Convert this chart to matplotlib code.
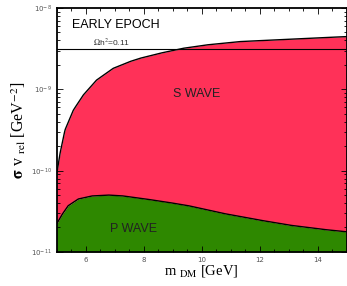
import numpy as np
import matplotlib
matplotlib.use("Agg")
import matplotlib.pyplot as plt
from matplotlib.ticker import MultipleLocator, LogLocator, NullFormatter

# --- data ------------------------------------------------------------------
m_s = [5.0, 5.03, 5.12, 5.29, 5.58, 5.92, 6.38, 6.95, 7.52, 7.86, 8.55, 9.35,
       10.15, 11.29, 12.44, 13.58, 15.0]
sv_s = [0.92e-10, 1.02e-10, 1.63e-10, 3.16e-10, 5.56e-10, 8.5e-10, 1.30e-9, 1.81e-9,
        2.19e-9, 2.40e-9, 2.77e-9, 3.19e-9, 3.51e-9, 3.86e-9, 4.04e-9, 4.23e-9, 4.45e-9]

m_p = [5.0, 5.18, 5.4, 5.75, 6.21, 6.78, 7.24, 7.92, 8.72, 9.52, 10.72, 11.87,
       13.01, 14.15, 15.0]
sv_p = [2.2e-11, 2.85e-11, 3.7e-11, 4.48e-11, 4.88e-11, 5.01e-11, 4.91e-11, 4.56e-11,
        4.14e-11, 3.72e-11, 2.99e-11, 2.51e-11, 2.14e-11, 1.9e-11, 1.77e-11]

relic_sv = 3.1e-9
x_ticks = [6, 8, 10, 12, 14]

RED = "#FF3158"
GREEN = "#2E8800"

plt.rcParams["mathtext.fontset"] = "stix"

fig = plt.figure(figsize=(3.47, 2.86), dpi=100)
ax = fig.add_axes([0.163, 0.119, 0.836, 0.853])

# put both curves on a common grid so the bands can be stacked
grid = np.linspace(5, 15, 400)
s_curve = 10 ** np.interp(grid, m_s, np.log10(sv_s))
p_curve = 10 ** np.interp(grid, m_p, np.log10(sv_p))

ax.fill_between(grid, 1e-11, p_curve, color=GREEN, lw=0)
ax.fill_between(grid, p_curve, s_curve, color=RED, lw=0)
ax.plot(grid, s_curve, color="black", lw=1.0)
ax.plot(grid, p_curve, color="black", lw=1.0)
ax.axhline(relic_sv, color="black", lw=0.8)

ax.set_yscale("log")
ax.set_xlim(5, 15)
ax.set_ylim(1e-11, 1e-8)

ax.set_xticks(x_ticks)
ax.xaxis.set_minor_locator(MultipleLocator(0.5))
ax.yaxis.set_minor_locator(LogLocator(base=10, subs=np.arange(2, 10)))
ax.yaxis.set_minor_formatter(NullFormatter())
ax.tick_params(which="both", direction="in", top=True, right=True,
               labelsize=5, labelcolor="#555555", width=0.6)
ax.tick_params(which="major", length=4)
ax.tick_params(which="minor", length=2)
for sp in ax.spines.values():
    sp.set_linewidth(1.3)

ax.set_xlabel(r"m $_{\rm DM}$ [GeV]", fontsize=10.5, family="Liberation Serif", labelpad=0)
ax.set_ylabel(r"$\mathbf{\sigma}$ v $_{\rm rel}$ [GeV$^{-2}$]", fontsize=11.5,
              family="Liberation Serif", labelpad=2)

ax.text(5.53, 6.2e-9, "EARLY EPOCH", fontsize=9, family="Liberation Sans",
        va="center")
ax.text(6.25, 3.75e-9, r"$\Omega$h$^2$=0.11", fontsize=6, family="Liberation Sans",
        va="center", color="#333333")
ax.text(9.0, 8.75e-10, "S WAVE", fontsize=9, family="Liberation Sans", va="center",
        color="#222222")
ax.text(6.84, 1.94e-11, "P WAVE", fontsize=9, family="Liberation Sans", va="center",
        color="#222222")

fig.savefig("out.png", dpi=100)
